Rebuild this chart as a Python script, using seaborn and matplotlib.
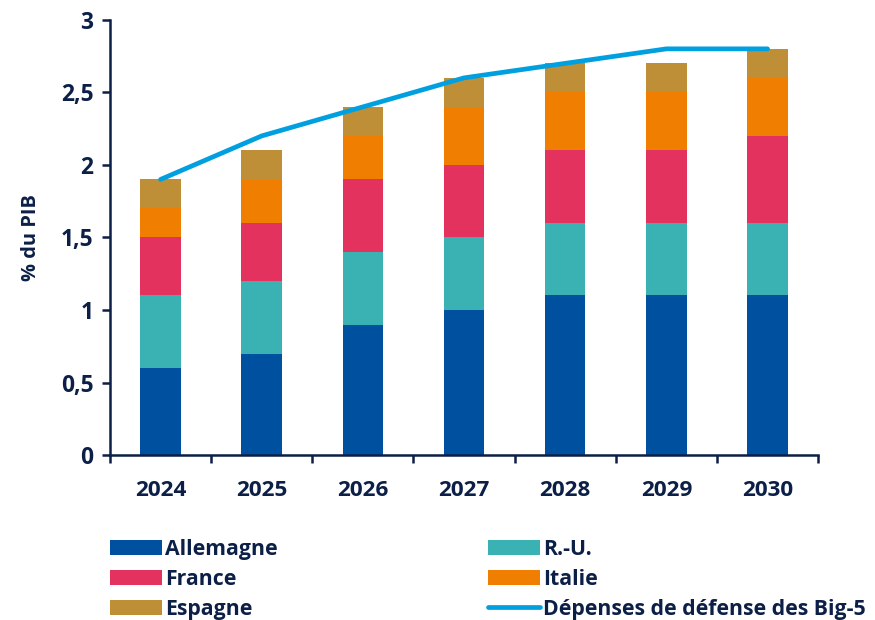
import matplotlib
matplotlib.use("Agg")
import matplotlib.pyplot as plt
from matplotlib.ticker import FixedLocator, FuncFormatter
from matplotlib.lines import Line2D
from matplotlib.patches import Patch
import numpy as np
import pandas as pd
import seaborn as sns

years = ["2024", "2025", "2026", "2027", "2028", "2029", "2030"]
allemagne = [0.6, 0.7, 0.9, 1.0, 1.1, 1.1, 1.1]
royaume_uni = [0.5, 0.5, 0.5, 0.5, 0.5, 0.5, 0.5]
france = [0.4, 0.4, 0.5, 0.5, 0.5, 0.5, 0.6]
italie = [0.2, 0.3, 0.3, 0.4, 0.4, 0.4, 0.4]
espagne = [0.2, 0.2, 0.2, 0.2, 0.2, 0.2, 0.2]
big5_total = [1.9, 2.2, 2.4, 2.6, 2.7, 2.8, 2.8]

series_names = ["Allemagne", "R.-U.", "France", "Italie", "Espagne"]
series_values = [allemagne, royaume_uni, france, italie, espagne]
series_colors = ["#0050a0", "#3ab2b4", "#e3325e", "#f07e00", "#bf8f38"]
line_label = "Dépenses de défense des Big-5"
line_color = "#00a0e0"
ink = "#0c1f47"
weight = "bold"

sns.set_theme(style="white")
plt.rcParams["font.family"] = ["Open Sans", "DejaVu Sans"]
plt.rcParams["font.weight"] = "bold"

df = pd.DataFrame(dict(zip(series_names, series_values)), index=years)
cum = df.cumsum(axis=1)

fig = plt.figure(figsize=(8.75, 6.2), dpi=100)
ax = fig.add_axes([0.1257, 0.266, 0.8093, 0.702])

# stacked bars: draw cumulative heights from the top layer downward
for name, color in reversed(list(zip(series_names, series_colors))):
    sns.barplot(x=cum.index, y=cum[name].values, color=color, width=0.4,
                saturation=1, linewidth=0, ax=ax, zorder=2)

sns.lineplot(x=np.arange(len(years)), y=big5_total, color=line_color,
             linewidth=3.4, ax=ax, zorder=3, solid_capstyle="round")

ax.set_xlim(-0.5, len(years) - 0.5)
ax.set_ylim(0, 3)
ax.yaxis.set_major_locator(FixedLocator([0, 0.5, 1, 1.5, 2, 2.5, 3]))
ax.yaxis.set_major_formatter(FuncFormatter(lambda v, p: f"{v:g}".replace(".", ",")))
ax.set_xticks(range(len(years)))
ax.set_xticklabels(years)
ax.set_xticks(np.arange(-0.5, len(years)), minor=True)

for side in ["top", "right"]:
    ax.spines[side].set_visible(False)
for side in ["left", "bottom"]:
    ax.spines[side].set_color(ink)
    ax.spines[side].set_linewidth(1.8)

ax.tick_params(axis="y", which="major", left=True, length=6, width=1.8,
               color=ink, labelcolor=ink, labelsize=16.4, pad=6)
ax.tick_params(axis="x", which="major", bottom=False, labelcolor=ink,
               labelsize=16.2, pad=12)
ax.tick_params(axis="x", which="minor", bottom=True, length=6, width=1.8,
               color=ink, direction="out")
for lab in ax.get_xticklabels() + ax.get_yticklabels():
    lab.set_fontweight(weight)

ax.set_xlabel("")
ax.set_ylabel("% du PIB", color=ink, fontsize=14.4, fontweight=weight, labelpad=14)
ax.grid(False)

patches = {n: Patch(facecolor=c, edgecolor="none") for n, c in zip(series_names, series_colors)}
line_handle = Line2D([0], [0], color=line_color, linewidth=3.4, solid_capstyle="round")
handles = [patches["Allemagne"], patches["France"], patches["Espagne"],
           patches["R.-U."], patches["Italie"], line_handle]
labels = ["Allemagne", "France", "Espagne", "R.-U.", "Italie", line_label]
leg = fig.legend(handles, labels, loc="upper left", ncol=2, frameon=False,
                 handlelength=2.45, handleheight=0.7, handletextpad=0.15,
                 columnspacing=9.9, labelspacing=0.43,
                 prop={"size": 15.3, "weight": weight}, borderaxespad=0)
leg.set_bbox_to_anchor((0.1155, 0.145), transform=fig.transFigure)
for t in leg.get_texts():
    t.set_color(ink)

fig.savefig("out.png", dpi=100)
